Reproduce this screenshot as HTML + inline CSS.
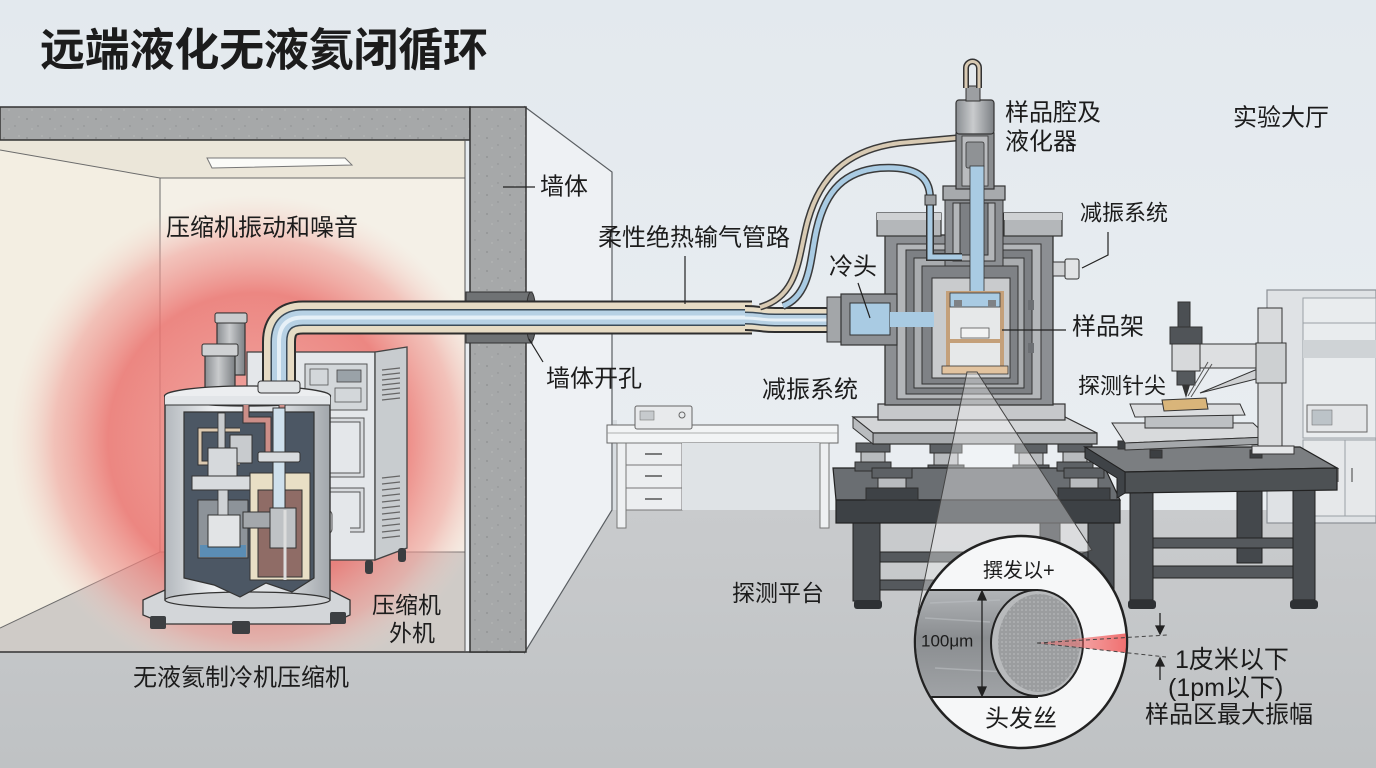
<!DOCTYPE html>
<html><head><meta charset="utf-8">
<style>
html,body{margin:0;padding:0;background:#e8edf1;overflow:hidden;}
svg{display:block}
text{font-family:"Liberation Sans","Noto Sans CJK SC",sans-serif;fill:#1c1c1c;dominant-baseline:central;}
</style></head><body>
<svg width="1376" height="768" viewBox="0 0 1376 768" xmlns="http://www.w3.org/2000/svg">
<defs>
 <linearGradient id="bg" x1="0" y1="0" x2="0" y2="1"><stop offset="0" stop-color="#e3e9ee"/><stop offset="1" stop-color="#edf0f3"/></linearGradient>
 <linearGradient id="floor" x1="0" y1="0" x2="0" y2="1"><stop offset="0" stop-color="#c9cbcd"/><stop offset="1" stop-color="#bfc2c4"/></linearGradient>
 <radialGradient id="glow" cx="255" cy="440" r="245" gradientUnits="userSpaceOnUse">
   <stop offset="0" stop-color="#ee8a86" stop-opacity="0.7"/>
   <stop offset="0.6" stop-color="#eb7470" stop-opacity="0.85"/>
   <stop offset="0.82" stop-color="#f09c95" stop-opacity="0.55"/>
   <stop offset="1" stop-color="#f5d2c8" stop-opacity="0"/>
 </radialGradient>
 <linearGradient id="cyl" x1="0" y1="0" x2="1" y2="0"><stop offset="0" stop-color="#b3b8bd"/><stop offset="0.3" stop-color="#eef0f2"/><stop offset="0.7" stop-color="#dcdfe2"/><stop offset="1" stop-color="#a2a7ac"/></linearGradient>
 <linearGradient id="metal" x1="0" y1="0" x2="1" y2="0"><stop offset="0" stop-color="#8a8e92"/><stop offset="0.45" stop-color="#c9cbcd"/><stop offset="1" stop-color="#7c8084"/></linearGradient>
 <linearGradient id="hair" x1="0" y1="0" x2="0" y2="1"><stop offset="0" stop-color="#b2b5b8"/><stop offset="0.45" stop-color="#8a8d90"/><stop offset="1" stop-color="#a0a3a6"/></linearGradient>
 <linearGradient id="red" x1="0" y1="0" x2="1" y2="0"><stop offset="0" stop-color="#f07070" stop-opacity="0.3"/><stop offset="1" stop-color="#f06464" stop-opacity="0.95"/></linearGradient>
 <pattern id="speck" width="23" height="19" patternUnits="userSpaceOnUse">
   <rect width="23" height="19" fill="#a6a8a9"/>
   <circle cx="4" cy="5" r="0.9" fill="#8d8f90"/><circle cx="15" cy="12" r="0.7" fill="#8d8f90"/><circle cx="19" cy="3" r="0.6" fill="#c2c3c4"/><circle cx="9" cy="15" r="0.6" fill="#c2c3c4"/>
 </pattern>
 <pattern id="dots" width="4" height="4" patternUnits="userSpaceOnUse">
   <rect width="4" height="4" fill="#9b9d9f"/><circle cx="2" cy="2" r="0.9" fill="#b4b6b8"/>
 </pattern>
 <clipPath id="lens"><circle cx="1021" cy="642" r="105"/></clipPath>
 <clipPath id="room"><rect x="0" y="140" width="465" height="512"/></clipPath>
</defs>

<!-- background -->
<rect width="1376" height="768" fill="url(#bg)"/>
<!-- hall floor -->
<polygon points="612,510 1376,510 1376,768 0,768 0,652 525,652" fill="url(#floor)"/>
<!-- hall side wall -->
<polygon points="525,107 612,172 612,510 525,652" fill="#eef1f4" stroke="#5a5e62" stroke-width="1.2"/>

<!-- compressor room interior -->
<polygon points="0,140 465,140 465,178 160,178 0,150" fill="#ebe6d9"/>
<polygon points="0,150 160,178 160,552 0,628" fill="#f3eee2"/>
<rect x="160" y="178" width="305" height="374" fill="#f4f0e7"/>
<polygon points="0,628 160,552 465,552 465,652 0,652" fill="#cfcbc7"/>
<g stroke="#6b6b6b" stroke-width="1" fill="none"><polyline points="0,150 160,178 465,178"/><line x1="160" y1="178" x2="160" y2="552"/><polyline points="0,628 160,552 465,552"/></g>
<rect x="0" y="140" width="465" height="512" fill="url(#glow)" clip-path="url(#room)"/>
<polygon points="207,158 345,158 352,165 212,168" fill="#fbfbf8" stroke="#777" stroke-width="1"/>
<line x1="0" y1="652" x2="525" y2="652" stroke="#333" stroke-width="1.5"/>

<!-- concrete ceiling & wall -->
<rect x="0" y="107" width="470" height="33" fill="url(#speck)" stroke="#333" stroke-width="1.5"/>
<rect x="470" y="107" width="56" height="545" fill="url(#speck)" stroke="#333" stroke-width="1.5"/>
<line x1="465" y1="140" x2="465" y2="652" stroke="#555" stroke-width="1"/>
<!-- wall hole sleeve -->
<rect x="466" y="292" width="66" height="51" fill="#6f7274" stroke="#333" stroke-width="1"/>
<ellipse cx="531" cy="317" rx="5" ry="25" fill="#5e6062" stroke="#333" stroke-width="1"/>

<!-- desk -->
<rect x="613" y="420" width="4" height="90" fill="#d8dde1"/>
<polygon points="607,425 838,425 838,443 607,443" fill="#f2f4f5" stroke="#666" stroke-width="1"/>
<line x1="607" y1="433" x2="838" y2="433" stroke="#999" stroke-width="0.8"/>
<rect x="626" y="443" width="56" height="67" fill="#eceef0" stroke="#777" stroke-width="1"/>
<line x1="626" y1="465" x2="682" y2="465" stroke="#777"/><line x1="626" y1="488" x2="682" y2="488" stroke="#777"/>
<g stroke="#555" stroke-width="1.5"><line x1="645" y1="454" x2="662" y2="454"/><line x1="645" y1="476" x2="662" y2="476"/><line x1="645" y1="499" x2="662" y2="499"/></g>
<rect x="682" y="443" width="138" height="67" fill="#dfe3e6"/>
<rect x="617" y="443" width="9" height="85" fill="#eef0f2" stroke="#777" stroke-width="1"/>
<rect x="820" y="443" width="9" height="85" fill="#eef0f2" stroke="#777" stroke-width="1"/>
<rect x="635" y="406" width="57" height="23" rx="2" fill="#e8eaec" stroke="#666" stroke-width="1"/>
<rect x="640" y="411" width="14" height="9" fill="#c6cacd" stroke="#777" stroke-width="0.6"/>
<circle cx="682" cy="415" r="3" fill="none" stroke="#666"/>

<!-- right background cabinet -->
<rect x="1267" y="290" width="109" height="233" fill="#dfe2e5" stroke="#8b9095" stroke-width="1.2"/>
<rect x="1303" y="298" width="73" height="140" fill="#e9ecee" stroke="#9aa0a5" stroke-width="1"/>
<rect x="1303" y="340" width="73" height="18" fill="#cfd3d6"/>
<line x1="1303" y1="323" x2="1376" y2="323" stroke="#9aa0a5"/>
<rect x="1303" y="440" width="73" height="76" fill="#e6e8ea" stroke="#9aa0a5" stroke-width="1"/>
<line x1="1345" y1="440" x2="1345" y2="516" stroke="#9aa0a5"/>
<line x1="1338" y1="468" x2="1338" y2="482" stroke="#777" stroke-width="1.5"/><line x1="1352" y1="468" x2="1352" y2="482" stroke="#777" stroke-width="1.5"/>
<rect x="1307" y="405" width="60" height="27" fill="#e4e6e8" stroke="#666" stroke-width="1"/>
<rect x="1312" y="410" width="20" height="15" fill="#bcc3c8" stroke="#777" stroke-width="0.6"/>

<!-- compressor outdoor cabinet -->
<rect x="247" y="352" width="128" height="208" fill="#e4e7ea" stroke="#444" stroke-width="1.3"/>
<polygon points="375,352 407,347 407,548 375,560" fill="#c8cccf" stroke="#444" stroke-width="1.3"/>
<g stroke="#666" stroke-width="1.2">
 <line x1="382" y1="370" x2="400" y2="368"/><line x1="382" y1="375" x2="400" y2="373"/><line x1="382" y1="380" x2="400" y2="378"/><line x1="382" y1="385" x2="400" y2="383"/><line x1="382" y1="390" x2="400" y2="388"/><line x1="382" y1="395" x2="400" y2="393"/><line x1="382" y1="400" x2="400" y2="398"/>
 <line x1="382" y1="478" x2="400" y2="476"/><line x1="382" y1="484" x2="400" y2="482"/><line x1="382" y1="490" x2="400" y2="488"/><line x1="382" y1="496" x2="400" y2="494"/><line x1="382" y1="502" x2="400" y2="500"/><line x1="382" y1="508" x2="400" y2="506"/><line x1="382" y1="514" x2="400" y2="512"/><line x1="382" y1="520" x2="400" y2="518"/><line x1="382" y1="526" x2="400" y2="524"/><line x1="382" y1="532" x2="400" y2="530"/><line x1="382" y1="538" x2="400" y2="536"/>
</g>
<rect x="305" y="364" width="62" height="46" fill="#d3d7da" stroke="#555" stroke-width="1"/>
<rect x="337" y="370" width="24" height="12" fill="#9aa2a8" stroke="#444" stroke-width="0.8"/>
<rect x="310" y="369" width="18" height="16" fill="none" stroke="#555" stroke-width="0.8"/>
<rect x="335" y="388" width="26" height="14" fill="none" stroke="#555" stroke-width="0.8"/>
<path d="M330,420 H362 V475 H330 M330,490 H362 V530 H350" fill="none" stroke="#555" stroke-width="5"/>
<path d="M330,420 H362 V475 H330 M330,490 H362 V530 H350" fill="none" stroke="#d9dcdf" stroke-width="3"/>
<rect x="318" y="510" width="14" height="24" rx="5" fill="#d9dcdf" stroke="#555"/>
<rect x="365" y="560" width="8" height="14" rx="3" fill="#3a3d40"/><rect x="398" y="548" width="8" height="14" rx="3" fill="#3a3d40"/>

<!-- main transfer pipe -->
<g fill="none" stroke-linejoin="round">
 <path d="M279,400 V342 Q279,317.5 303,317.5 H752" stroke="#2e2e2e" stroke-width="34"/>
 <path d="M279,400 V342 Q279,317.5 303,317.5 H752" stroke="#e6dbc4" stroke-width="30"/>
 <path d="M279,400 V342 Q279,317.5 303,317.5 H752" stroke="#3a4a58" stroke-width="17"/>
 <path d="M279,400 V342 Q279,317.5 303,317.5 H752" stroke="#b7d1e4" stroke-width="14"/>
 <path d="M279,400 V342 Q279,317.5 303,317.5 H752" stroke="#e6f0f7" stroke-width="4"/>
 <path d="M745,318 C760,318 760,320 775,320 H835" stroke="#2e2e2e" stroke-width="26"/>
 <path d="M745,318 C760,318 760,320 775,320 H835" stroke="#e6dbc4" stroke-width="22"/>
 <path d="M745,318 C760,318 760,320 775,320 H835" stroke="#3a4a58" stroke-width="13"/>
 <path d="M745,318 C760,318 760,320 775,320 H835" stroke="#b7d1e4" stroke-width="10"/>
 <path d="M745,318 C760,318 760,320 775,320 H835" stroke="#e6f0f7" stroke-width="3"/>
 <!-- tan tube to top -->
 <path d="M760,307 C800,296 798,255 808,220 C820,178 845,150 900,143 L956,138" stroke="#3a3a3a" stroke-width="7"/>
 <path d="M760,307 C800,296 798,255 808,220 C820,178 845,150 900,143 L956,138" stroke="#d8cab3" stroke-width="4"/>
 <!-- blue tube -->
 <path d="M783,306 C812,295 810,255 817,228 C826,190 845,171 880,168 C915,166 930,176 930,198" stroke="#3a3a3a" stroke-width="8"/>
 <path d="M783,306 C812,295 810,255 817,228 C826,190 845,171 880,168 C915,166 930,176 930,198" stroke="#a9cbe3" stroke-width="5"/>
</g>

<!-- compressor -->
<rect x="217" y="313" width="28" height="62" fill="url(#metal)" stroke="#333" stroke-width="1.2"/>
<rect x="215" y="313" width="32" height="10" rx="2" fill="#c9cbcd" stroke="#333" stroke-width="1"/>
<rect x="205" y="350" width="30" height="42" fill="url(#metal)" stroke="#333" stroke-width="1.2"/>
<rect x="202" y="344" width="36" height="12" rx="2" fill="#cfd1d3" stroke="#333" stroke-width="1"/>
<polygon points="143,600 165,590 330,590 350,600 350,615 330,624 165,624 143,615" fill="#d3d6d9" stroke="#333" stroke-width="1.3"/>
<rect x="150" y="616" width="16" height="13" rx="2" fill="#3c3f42"/><rect x="232" y="621" width="18" height="13" rx="2" fill="#3c3f42"/><rect x="330" y="612" width="16" height="12" rx="2" fill="#3c3f42"/>
<rect x="165" y="396" width="165" height="204" fill="url(#cyl)" stroke="#333" stroke-width="1.4"/>
<ellipse cx="247.5" cy="600" rx="82.5" ry="8" fill="#cfd2d5" stroke="#333" stroke-width="1.2"/>
<ellipse cx="247.5" cy="396" rx="83" ry="10" fill="#eceef0" stroke="#333" stroke-width="1.3"/>
<rect x="165" y="396" width="165" height="9" fill="#e2e5e8"/>
<line x1="165" y1="405" x2="330" y2="405" stroke="#333" stroke-width="1"/>
<rect x="258" y="381" width="42" height="12" rx="3" fill="#dfe2e4" stroke="#333" stroke-width="1"/>
<polygon points="184,412 314,412 314,578 292,592 266,583 240,597 214,585 184,578" fill="#4c5764" stroke="#333" stroke-width="1.2"/>
<path d="M240,430 H200 V463 H240" fill="none" stroke="#333" stroke-width="5"/><path d="M240,430 H200 V463 H240" fill="none" stroke="#dcc9b0" stroke-width="3"/>
<rect x="218" y="413" width="7" height="35" fill="#c8cbce" stroke="#333" stroke-width="0.8"/>
<rect x="230" y="435" width="22" height="28" fill="#c8cbce" stroke="#333" stroke-width="1"/>
<rect x="208" y="448" width="29" height="32" fill="#d6d9dc" stroke="#333" stroke-width="1"/>
<rect x="192" y="476" width="63" height="14" fill="#d8dbde" stroke="#333" stroke-width="1"/>
<rect x="198" y="500" width="50" height="58" fill="#8d9399" stroke="#333" stroke-width="1"/>
<rect x="200" y="545" width="46" height="12" fill="#5b8db4"/>
<rect x="208" y="515" width="32" height="32" fill="#e2e4e6" stroke="#333" stroke-width="1"/>
<rect x="218" y="490" width="10" height="25" fill="#cfd2d5" stroke="#333" stroke-width="0.8"/>
<rect x="250" y="473" width="60" height="107" fill="#e9dfc5" stroke="#333" stroke-width="1"/>
<rect x="258" y="490" width="44" height="87" fill="#8f6c66" stroke="#333" stroke-width="1"/>
<path d="M246,405 V420 H268 V452 M282,405 V450" fill="none" stroke="#333" stroke-width="7"/>
<path d="M246,405 V420 H268 V452 M282,405 V450" fill="none" stroke="#cc8e88" stroke-width="5"/>
<rect x="273" y="408" width="12" height="105" fill="#cfe0ec" stroke="#333" stroke-width="1"/>
<rect x="258" y="452" width="42" height="10" rx="2" fill="#d8dbde" stroke="#333" stroke-width="1"/>
<rect x="243" y="512" width="34" height="16" fill="#a4a8ac" stroke="#333" stroke-width="1"/>
<rect x="270" y="508" width="26" height="40" fill="#bfc2c5" stroke="#333" stroke-width="1"/>
<line x1="285" y1="510" x2="285" y2="580" stroke="#ddd" stroke-width="3"/>

<!-- ===== cryostat ===== -->
<!-- isolators behind -->
<g stroke="#2f2f2f" stroke-width="1">
 <rect x="930" y="443" width="32" height="10" fill="#5d6165"/><rect x="934" y="453" width="24" height="12" fill="#b8bbbe"/><rect x="928" y="465" width="36" height="10" fill="#5d6165"/>
 <rect x="1015" y="443" width="32" height="10" fill="#5d6165"/><rect x="1019" y="453" width="24" height="12" fill="#b8bbbe"/><rect x="1013" y="465" width="36" height="10" fill="#5d6165"/>
</g>
<!-- left table -->
<rect x="853" y="523" width="27" height="78" fill="#4a4e52" stroke="#222"/>
<rect x="1088" y="523" width="26" height="78" fill="#4a4e52" stroke="#222"/>
<rect x="880" y="552" width="208" height="10" fill="#55595d" stroke="#222"/>
<rect x="880" y="580" width="208" height="10" fill="#55595d" stroke="#222"/>
<rect x="1040" y="510" width="20" height="80" fill="#3f4347" stroke="#222"/>
<polygon points="833,468 1105,468 1120,500 836,500" fill="#6a6e72" stroke="#222" stroke-width="1.2"/>
<rect x="836" y="500" width="284" height="23" fill="#3d4145" stroke="#222" stroke-width="1.2"/>
<rect x="854" y="600" width="28" height="9" rx="3" fill="#2e3134"/><rect x="1086" y="600" width="28" height="9" rx="3" fill="#2e3134"/>
<!-- front isolators -->
<g stroke="#2f2f2f" stroke-width="1">
 <rect x="856" y="443" width="34" height="9" fill="#5d6165"/><rect x="861" y="452" width="24" height="10" fill="#b8bbbe"/><rect x="855" y="462" width="36" height="9" fill="#5d6165"/>
 <rect x="872" y="468" width="40" height="10" fill="#5d6165"/><rect x="878" y="478" width="28" height="10" fill="#b8bbbe"/><rect x="866" y="488" width="52" height="12" fill="#3e4246"/>
 <rect x="1058" y="443" width="34" height="9" fill="#5d6165"/><rect x="1063" y="452" width="24" height="10" fill="#b8bbbe"/><rect x="1057" y="462" width="36" height="9" fill="#5d6165"/>
 <rect x="1064" y="468" width="40" height="10" fill="#5d6165"/><rect x="1070" y="478" width="28" height="10" fill="#b8bbbe"/><rect x="1058" y="488" width="52" height="12" fill="#3e4246"/>
</g>
<!-- platform plate -->
<polygon points="853,417 1065,417 1097,433 873,433" fill="#d3d5d7" stroke="#333" stroke-width="1.2"/>
<polygon points="873,433 1097,433 1097,444 873,444" fill="#a8abae" stroke="#333" stroke-width="1.2"/>
<polygon points="853,417 873,433 873,444 853,428" fill="#b9bcbf" stroke="#333" stroke-width="1"/>
<!-- base plate -->
<rect x="878" y="404" width="187" height="16" fill="#c6c8cb" stroke="#333" stroke-width="1.2"/>
<!-- body -->
<rect x="885" y="235" width="168" height="170" fill="#8c8f93" stroke="#333" stroke-width="1.3"/>
<rect x="897" y="244" width="144" height="155" fill="#b3b6b9" stroke="#333" stroke-width="1"/>
<rect x="906" y="250" width="126" height="144" fill="#7d8084" stroke="#333" stroke-width="1"/>
<rect x="914" y="258" width="110" height="130" fill="#a9acaf" stroke="#333" stroke-width="1"/>
<rect x="922" y="266" width="96" height="118" fill="#7f8286" stroke="#333" stroke-width="1"/>
<rect x="932" y="278" width="78" height="100" fill="#c9cbcd" stroke="#333" stroke-width="1"/>
<!-- neck -->
<rect x="945" y="198" width="58" height="68" fill="#8c8f93" stroke="#333" stroke-width="1"/>
<rect x="953" y="203" width="42" height="58" fill="#b3b6b9" stroke="#333" stroke-width="1"/>
<rect x="960" y="203" width="28" height="52" fill="#7d8084" stroke="#333" stroke-width="1"/>
<!-- cap plates -->
<rect x="877" y="213" width="64" height="23" fill="#b4b7ba" stroke="#333" stroke-width="1.2"/>
<rect x="877" y="213" width="64" height="7" fill="#cfd1d3"/>
<rect x="1004" y="213" width="58" height="23" fill="#b4b7ba" stroke="#333" stroke-width="1.2"/>
<rect x="1004" y="213" width="58" height="7" fill="#cfd1d3"/>
<rect x="943" y="186" width="62" height="14" fill="#a7aaad" stroke="#333" stroke-width="1.2"/>
<!-- top column -->
<rect x="956" y="133" width="38" height="56" fill="#8a8d90" stroke="#333" stroke-width="1.2"/>
<rect x="962" y="136" width="26" height="50" fill="#b9bbbe" stroke="#333" stroke-width="0.8"/>
<rect x="966" y="142" width="18" height="26" rx="2" fill="#8f9295" stroke="#333" stroke-width="0.8"/>
<rect x="956" y="100" width="38" height="34" rx="3" fill="url(#metal)" stroke="#333" stroke-width="1.2"/>
<rect x="966" y="86" width="14" height="15" fill="#9c9fa2" stroke="#333" stroke-width="1"/>
<path d="M966,88 V68 A6.5,6.5 0 0 1 979,68 V88" fill="none" stroke="#333" stroke-width="6"/>
<path d="M966,88 V68 A6.5,6.5 0 0 1 979,68 V88" fill="none" stroke="#d8cab3" stroke-width="3"/>
<!-- blue column -->
<rect x="970" y="166" width="14" height="130" fill="#a9cbe3" stroke="#333" stroke-width="0.8"/>
<path d="M930,198 V257 H962" fill="none" stroke="#333" stroke-width="8"/>
<path d="M930,198 V257 H962" fill="none" stroke="#a9cbe3" stroke-width="5"/>
<rect x="925" y="195" width="11" height="10" fill="#9c9fa2" stroke="#333"/>
<!-- sample holder -->
<rect x="948" y="293" width="54" height="75" fill="#e6e8e9" stroke="#c4a07a" stroke-width="4"/>
<rect x="950" y="293" width="50" height="14" fill="#a9cbe3" stroke="#333" stroke-width="0.8"/>
<rect x="954" y="300" width="8" height="7" fill="#7e8286"/><rect x="988" y="300" width="8" height="7" fill="#7e8286"/>
<rect x="961" y="328" width="28" height="10" fill="#f2f3f3" stroke="#555" stroke-width="0.8"/>
<line x1="950" y1="341" x2="1000" y2="341" stroke="#c4a07a" stroke-width="4"/>
<rect x="942" y="366" width="66" height="8" fill="#e2c39f" stroke="#333" stroke-width="0.8"/>
<!-- cold head -->
<rect x="827" y="297" width="14" height="45" fill="#a3a6a9" stroke="#333" stroke-width="1"/>
<rect x="841" y="294" width="56" height="51" fill="#8d9094" stroke="#333" stroke-width="1.2"/>
<rect x="850" y="303" width="40" height="32" fill="#a9cbe3" stroke="#333" stroke-width="1"/>
<rect x="890" y="312" width="44" height="15" fill="#a9cbe3"/>
<!-- side connector -->
<rect x="1053" y="262" width="12" height="14" fill="#d0d2d4" stroke="#333"/><rect x="1065" y="259" width="14" height="20" rx="2" fill="#e2e4e6" stroke="#333"/>
<rect x="1028" y="300" width="6" height="10" fill="#6d7074"/><rect x="1028" y="343" width="6" height="10" fill="#6d7074"/>

<!-- right table -->
<rect x="1237" y="478" width="25" height="85" fill="#44484c" stroke="#222"/>
<rect x="1153" y="538" width="140" height="10" fill="#55595d" stroke="#222"/>
<rect x="1153" y="566" width="140" height="12" fill="#55595d" stroke="#222"/>
<rect x="1130" y="490" width="23" height="110" fill="#4a4e52" stroke="#222"/>
<rect x="1293" y="490" width="22" height="110" fill="#4a4e52" stroke="#222"/>
<polygon points="1085,447 1300,447 1337,468 1125,472" fill="#7b7e81" stroke="#222" stroke-width="1.2"/>
<polygon points="1125,472 1337,468 1337,490 1125,493" fill="#4d5154" stroke="#222" stroke-width="1.2"/>
<polygon points="1085,447 1125,472 1125,493 1117,498 1117,478 1085,458" fill="#3f4347" stroke="#222"/>
<rect x="1128" y="600" width="28" height="9" rx="3" fill="#2e3134"/><rect x="1290" y="600" width="28" height="9" rx="3" fill="#2e3134"/>
<!-- probe station -->
<g stroke="#333" stroke-width="1">
 <rect x="1118" y="441" width="12" height="8" fill="#3c3f42"/><rect x="1150" y="450" width="12" height="8" fill="#3c3f42"/><rect x="1250" y="450" width="12" height="8" fill="#3c3f42"/>
 <polygon points="1112,423 1253,423 1268,437 1125,443" fill="#d8dadc"/>
 <polygon points="1125,443 1268,437 1268,444 1125,450" fill="#a5a8ab"/>
 <rect x="1145" y="414" width="88" height="14" fill="#bdc0c3"/>
 <polygon points="1130,404 1240,404 1245,415 1135,417" fill="#dcdee0"/>
 <polygon points="1162,400 1206,398 1208,409 1164,411" fill="#d9b57a"/>
 <rect x="1258" y="308" width="24" height="145" fill="#d9dbdd"/>
 <rect x="1252" y="446" width="42" height="8" fill="#e4e6e8"/>
 <rect x="1180" y="344" width="105" height="24" fill="#dddfe1"/>
 <polygon points="1200,393 1260,368 1260,378" fill="#cfd1d3"/>
 <rect x="1256" y="343" width="30" height="40" fill="#cdd0d2"/>
 <rect x="1178" y="302" width="12" height="26" fill="#4b4f53"/>
 <rect x="1170" y="327" width="32" height="17" fill="#505458"/>
 <rect x="1172" y="344" width="28" height="27" fill="#d7d9db"/>
 <rect x="1177" y="371" width="18" height="14" fill="#55595d"/>
</g>
<polygon points="1182,385 1190,385 1186,398" fill="#333"/>
<path d="M1188,396 L1208,362 M1191,397 L1212,364" stroke="#555" stroke-width="1" fill="none"/>

<!-- magnifier cone -->
<polygon points="967,372 977,372 1092,550 918,612" fill="#ffffff" fill-opacity="0.35" stroke="#444" stroke-width="1"/>
<!-- lens -->
<circle cx="1021" cy="642" r="106" fill="#f6f7f8" stroke="#222" stroke-width="2.5"/>
<g clip-path="url(#lens)">
 <rect x="900" y="590" width="137" height="107" fill="url(#hair)" stroke="#222" stroke-width="2"/>
 <path d="M930,603 L1000,600 M925,618 L990,622 M935,668 L1005,672" stroke="#bbbec1" stroke-width="1.5" fill="none" opacity="0.6"/>
 <polygon points="1037,643 1130,633 1130,653" fill="url(#red)"/>
</g>
<ellipse cx="1037" cy="643" rx="46" ry="53" fill="#b8babc" stroke="#222" stroke-width="2"/>
<ellipse cx="1039" cy="643" rx="41" ry="49" fill="url(#dots)"/>
<polygon points="1037,643 1084,638 1084,648" fill="#f07070" fill-opacity="0.55"/>
<path d="M1037,643 L1167,635 M1037,643 L1166,657" stroke="#444" stroke-width="1" stroke-dasharray="4,3" fill="none"/>
<g stroke="#222" stroke-width="1.3" fill="#222">
 <line x1="982" y1="596" x2="982" y2="691"/>
 <polygon points="982,591 978,600 986,600"/><polygon points="982,696 978,687 986,687"/>
 <line x1="1160" y1="613" x2="1160" y2="628"/><polygon points="1160,634 1156,626 1164,626"/>
 <line x1="1160" y1="664" x2="1160" y2="680"/><polygon points="1160,658 1156,666 1164,666"/>
</g>

<!-- leader lines -->
<g stroke="#222" stroke-width="1.2" fill="none">
 <line x1="503" y1="187" x2="535" y2="187"/>
 <line x1="685" y1="256" x2="685" y2="304"/>
 <line x1="858" y1="283" x2="870" y2="318"/>
 <line x1="1002" y1="330" x2="1066" y2="330"/>
 <line x1="543" y1="362" x2="529" y2="339"/>
 <polyline points="1108,232 1108,255 1082,268"/>
</g>

<!-- labels -->
<text x="40" y="50" font-size="45" font-weight="bold" textLength="448" fill="#111">远端液化无液氦闭循环</text>
<text x="166" y="228" font-size="24">压缩机振动和噪音</text>
<text x="540" y="187" font-size="24">墙体</text>
<text x="598" y="238" font-size="24">柔性绝热输气管路</text>
<text x="829" y="267" font-size="24">冷头</text>
<text x="1005" y="113" font-size="24">样品腔及</text>
<text x="1005" y="142" font-size="24">液化器</text>
<text x="1233" y="118" font-size="24">实验大厅</text>
<text x="1080" y="213" font-size="22">减振系统</text>
<text x="1072" y="327" font-size="24">样品架</text>
<text x="546" y="379" font-size="24">墙体开孔</text>
<text x="762" y="390" font-size="24">减振系统</text>
<text x="1078" y="386" font-size="22">探测针尖</text>
<text x="372" y="605" font-size="23">压缩机</text>
<text x="389" y="633" font-size="23">外机</text>
<text x="133" y="678" font-size="24">无液氦制冷机压缩机</text>
<text x="732" y="593" font-size="23">探测平台</text>
<text x="983" y="571" font-size="20">撰发以+</text>
<text x="921" y="641" font-size="17">100μm</text>
<text x="985" y="719" font-size="24">头发丝</text>
<text x="1175" y="660" font-size="25">1皮米以下</text>
<text x="1168" y="688" font-size="25">(1pm以下)</text>
<text x="1145" y="715" font-size="24">样品区最大振幅</text>
</svg>
</body></html>
